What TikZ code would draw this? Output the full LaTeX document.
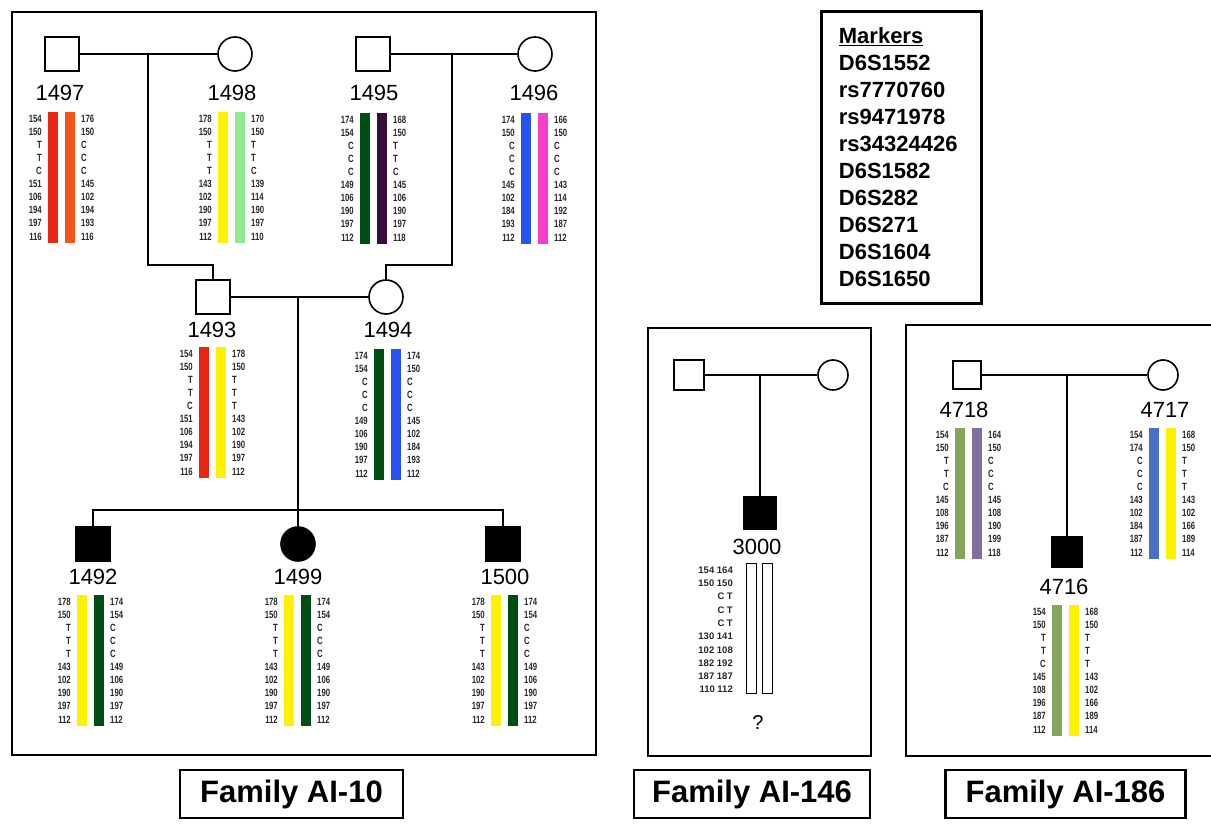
\documentclass[tikz,border=0pt]{standalone}
\usepackage{fontspec}
\setmainfont{Liberation Sans}
\newfontfamily\allelefont[FakeStretch=0.74]{Liberation Sans}

\definecolor{hapRed}{RGB}{232,38,18}
\definecolor{hapOrange}{RGB}{250,82,22}
\definecolor{hapYellow}{RGB}{255,242,0}
\definecolor{hapLightGreen}{RGB}{140,236,142}
\definecolor{hapDarkGreen}{RGB}{0,78,20}
\definecolor{hapPurple}{RGB}{58,12,60}
\definecolor{hapBlue}{RGB}{38,82,240}
\definecolor{hapPink}{RGB}{246,62,200}
\definecolor{hapOlive}{RGB}{132,166,92}
\definecolor{hapLavender}{RGB}{128,110,160}
\definecolor{hapSteel}{RGB}{72,112,200}

% #1 id, #2 centre x, #3 top y, #4/#5 bar colours, #6/#7 alleles
\newcommand{\haplotype}[7]{%
  \fill[#4] ({#2-14},#3) rectangle ({#2-4},{#3+131});
  \fill[#5] ({#2+3},#3) rectangle ({#2+13},{#3+131});
  \foreach \a [count=\i] in {#6}
    \node[allele,anchor=east] (h#1a\i) at ({#2-20},{#3+6.5+(\i-1)*13.1}) {\a};
  \foreach \b [count=\i] in {#7}
    \node[allele,anchor=west] (h#1b\i) at ({#2+19},{#3+6.5+(\i-1)*13.1}) {\b};
}

\begin{document}
\begin{tikzpicture}[x=1pt,y=-1pt,
    male/.style={draw,line width=1.6pt,minimum size=34pt,inner sep=0pt},
    female/.style={male,circle},
    small/.style={minimum size=30pt},
    affected/.style={fill=black},
    idlabel/.style={font=\fontsize{22}{22}\selectfont,inner sep=0pt},
    allele/.style={font=\allelefont\bfseries\fontsize{10.5}{10.5}\selectfont,inner sep=0pt,text=black!85},
    link/.style={line width=2pt},
    frame/.style={line width=2.8pt},
    famlabel/.style={draw,line width=2.8pt,minimum height=48pt,font=\bfseries\fontsize{31}{31}\selectfont}]
  \useasboundingbox (0,0) rectangle (1211,824);

  % frames
  \draw[frame] (12,12) rectangle (596,755);
  \draw[frame] (648,328) rectangle (871,756);
  \draw[frame] (906,325) rectangle (1216,756);

  % Family AI-10
  \node[male] (p1497) at (62,54) {};
  \node[female] (p1498) at (235,54) {};
  \node[male] (p1495) at (373,54) {};
  \node[female] (p1496) at (535,54) {};
  \node[male] (p1493) at (213,297) {};
  \node[female] (p1494) at (386,297) {};
  \node[male,affected] (p1492) at (93,544) {};
  \node[female,affected] (p1499) at (298,544) {};
  \node[male,affected] (p1500) at (503,544) {};

  \coordinate (c1) at (148,54);
  \coordinate (c1b) at (148,265);
  \coordinate (c2) at (452,54);
  \coordinate (c2b) at (452,265);
  \coordinate (c3) at (298,297);
  \coordinate (sib) at (298,510);

  \draw[link] (p1497) -- (p1498);
  \draw[link] (p1495) -- (p1496);
  \draw[link] (c1) -- (c1b) -| (p1493.north);
  \draw[link] (c2) -- (c2b) -| (p1494.north);
  \draw[link] (p1493) -- (p1494);
  \draw[link] (c3) -- (p1499.north);
  \draw[link] (p1492.north) |- (sib) -| (p1500.north);

  \node[idlabel] (id1497) at (60,93) {1497};
  \node[idlabel] (id1498) at (232,93) {1498};
  \node[idlabel] (id1495) at (374,93) {1495};
  \node[idlabel] (id1496) at (534,93) {1496};
  \node[idlabel] (id1493) at (212,330) {1493};
  \node[idlabel] (id1494) at (388,330) {1494};
  \node[idlabel] (id1492) at (93,577) {1492};
  \node[idlabel] (id1499) at (298,577) {1499};
  \node[idlabel] (id1500) at (505,577) {1500};

  \haplotype{1497}{62}{112}{hapRed}{hapOrange}
    {154,150,T,T,C,151,106,194,197,116}{176,150,C,C,C,145,102,194,193,116}
  \haplotype{1498}{232}{112}{hapYellow}{hapLightGreen}
    {178,150,T,T,T,143,102,190,197,112}{170,150,T,T,C,139,114,190,197,110}
  \haplotype{1495}{374}{113}{hapDarkGreen}{hapPurple}
    {174,154,C,C,C,149,106,190,197,112}{168,150,T,T,C,145,106,190,197,118}
  \haplotype{1496}{535}{113}{hapBlue}{hapPink}
    {174,150,C,C,C,145,102,184,193,112}{166,150,C,C,C,143,114,192,187,112}
  \haplotype{1493}{213}{347}{hapRed}{hapYellow}
    {154,150,T,T,C,151,106,194,197,116}{178,150,T,T,T,143,102,190,197,112}
  \haplotype{1494}{388}{349}{hapDarkGreen}{hapBlue}
    {174,154,C,C,C,149,106,190,197,112}{174,150,C,C,C,145,102,184,193,112}
  \haplotype{1492}{91}{595}{hapYellow}{hapDarkGreen}
    {178,150,T,T,T,143,102,190,197,112}{174,154,C,C,C,149,106,190,197,112}
  \haplotype{1499}{298}{595}{hapYellow}{hapDarkGreen}
    {178,150,T,T,T,143,102,190,197,112}{174,154,C,C,C,149,106,190,197,112}
  \haplotype{1500}{505}{595}{hapYellow}{hapDarkGreen}
    {178,150,T,T,T,143,102,190,197,112}{174,154,C,C,C,149,106,190,197,112}

  % Family AI-146
  \node[male,small] (dad146) at (689,375) {};
  \node[female,small] (mum146) at (833,375) {};
  \node[male,affected,minimum size=32pt] (p3000) at (760,513) {};
  \coordinate (c4) at (760,375);
  \draw[link] (dad146) -- (mum146);
  \draw[link] (c4) -- (p3000.north);
  \node[idlabel] (id3000) at (757,547) {3000};
  \draw[line width=1pt] (746,563) rectangle (756,693);
  \draw[line width=1pt] (762,563) rectangle (772,693);
  \foreach \a/\b [count=\i] in {154/164,150/150,C/T,C/T,C/T,130/141,102/108,182/192,187/187,110/112}
    \node[allele,font=\bfseries\fontsize{9.5}{9.5}\selectfont,anchor=east] (h3000r\i) at (733,{570+(\i-1)*13.3}) {\a\ \b};
  \node[font=\fontsize{20}{20}\selectfont] (unknown) at (758,723) {?};

  % Family AI-186
  \node[male,minimum size=28pt] (p4718) at (967,375) {};
  \node[female,small] (p4717) at (1163,375) {};
  \node[male,affected,small] (p4716) at (1067,552) {};
  \coordinate (c5) at (1067,375);
  \draw[link] (p4718) -- (p4717);
  \draw[link] (c5) -- (p4716.north);
  \node[idlabel] (id4718) at (964,410) {4718};
  \node[idlabel] (id4717) at (1165,410) {4717};
  \node[idlabel] (id4716) at (1064,587) {4716};

  \haplotype{4718}{969}{428}{hapOlive}{hapLavender}
    {154,150,T,T,C,145,108,196,187,112}{164,150,C,C,C,145,108,190,199,118}
  \haplotype{4717}{1163}{428}{hapSteel}{hapYellow}
    {154,174,C,C,C,143,102,184,187,112}{168,150,T,T,T,143,102,166,189,114}
  \haplotype{4716}{1066}{605}{hapOlive}{hapYellow}
    {154,150,T,T,C,145,108,196,187,112}{168,150,T,T,T,143,102,166,189,114}

  % marker list
  \node[draw,line width=2.8pt,anchor=north west,minimum width=160pt,minimum height=292pt,
    text width=125pt,align=left,font=\bfseries\fontsize{22}{27}\selectfont] (markers) at (820,10)
    {\underline{Markers}\\D6S1552\\rs7770760\\rs9471978\\rs34324426\\D6S1582\\D6S282\\D6S271\\D6S1604\\D6S1650};

  % family labels
  \node[famlabel,minimum width=223pt] (lab10) at (291.5,794) {Family AI-10};
  \node[famlabel,minimum width=236pt] (lab146) at (752,794) {Family AI-146};
  \node[famlabel,minimum width=240pt] (lab186) at (1065.5,794) {Family AI-186};
\end{tikzpicture}
\end{document}
